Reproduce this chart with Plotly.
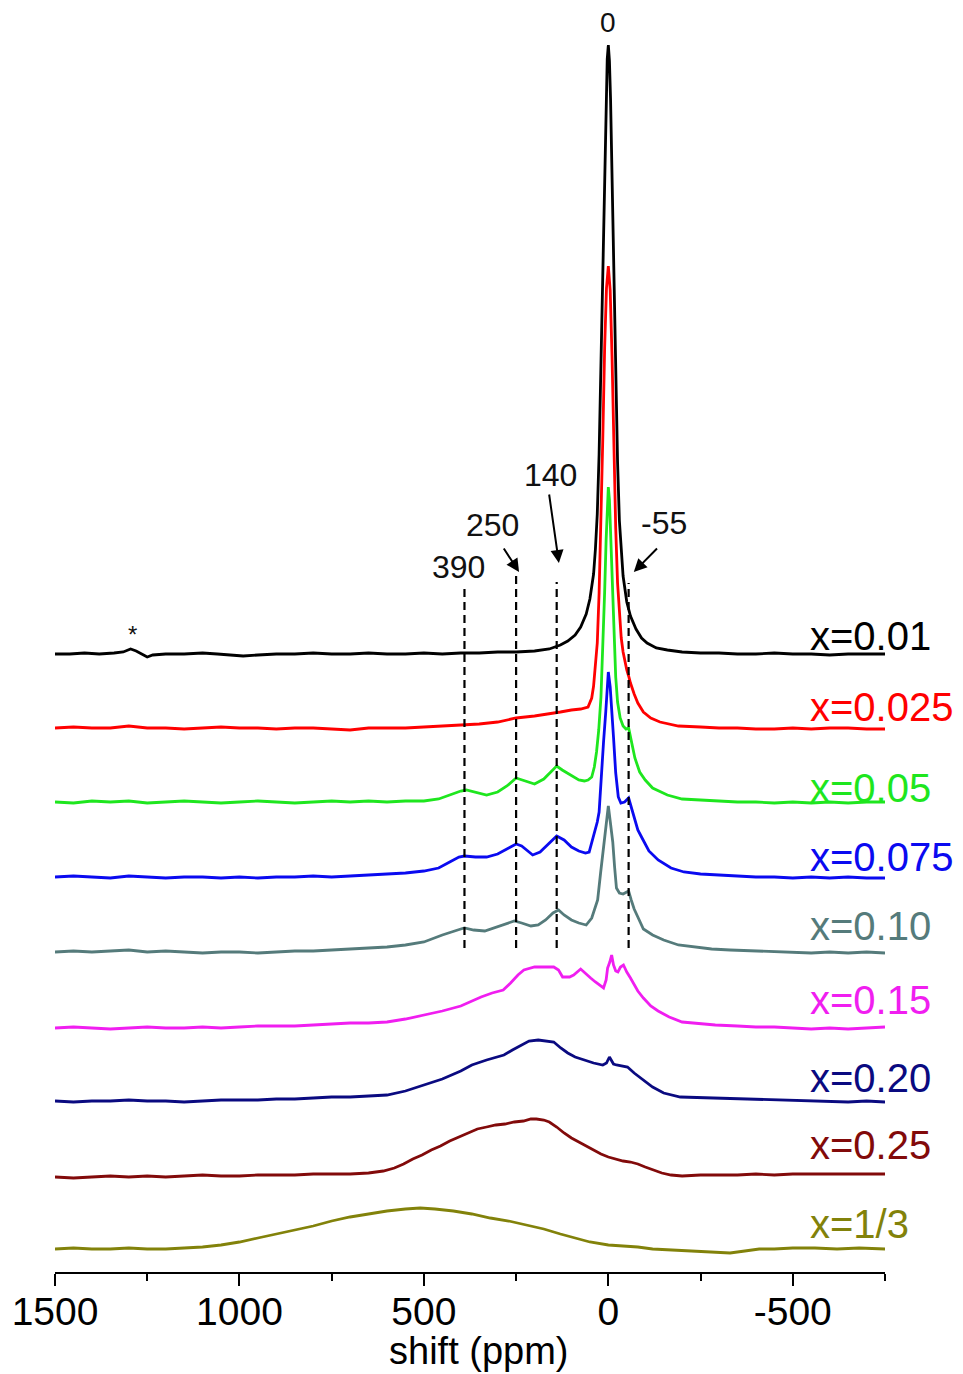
import plotly.graph_objects as go

# ---------------- data (ppm, intensity above own baseline) ----------------
labels = ["x=0.01", "x=0.025", "x=0.05", "x=0.075", "x=0.10",
          "x=0.15", "x=0.20", "x=0.25", "x=1/3"]

spec_001 = [(1500, 0), (1460, 0), (1420, 1), (1380, 0), (1340, 1), (1315, 2), (1295, 5), (1280, 3),
            (1265, 0), (1250, -3), (1235, -1), (1200, 0), (1150, 0), (1100, 1), (1060, 0), (1020, -1),
            (990, -2), (950, -1), (900, 0), (850, 0), (800, 1), (750, 0), (700, 0), (650, 1), (600, 0),
            (550, 0), (500, 1), (450, 0), (400, 1), (350, 1), (300, 2), (250, 2), (200, 3), (160, 5),
            (130, 9), (110, 13), (90, 19), (75, 27), (60, 40), (50, 55), (40, 80), (35, 105), (30, 140),
            (25, 200), (20, 290), (16, 370), (12, 440), (9, 500), (6, 560), (3, 595), (0, 609),
            (-3, 593), (-6, 555), (-9, 495), (-12, 432), (-16, 360), (-20, 280), (-25, 192), (-30, 133),
            (-35, 100), (-40, 78), (-50, 52), (-60, 38), (-75, 25), (-90, 16), (-105, 11), (-130, 6),
            (-160, 4), (-200, 2), (-250, 1), (-300, 1), (-350, 0), (-400, 0), (-450, 1), (-500, 0),
            (-550, 0), (-600, -1), (-650, 0), (-700, 0), (-750, 0)]

spec_0025 = [(1500, 0), (1450, 1), (1400, 0), (1350, 0), (1300, 2), (1250, 0), (1200, 0), (1150, -1),
             (1100, 0), (1050, 1), (1000, 0), (950, 0), (900, -1), (850, 0), (800, 0), (750, -1),
             (700, -2), (650, 0), (600, 0), (550, 0), (500, 1), (450, 2), (400, 3), (350, 4), (300, 6),
             (250, 10), (200, 12), (160, 14), (130, 16), (100, 18), (75, 19), (55, 21), (45, 30),
             (40, 42), (35, 60), (30, 85), (25, 135), (20, 200), (15, 290), (10, 380), (5, 440),
             (0, 462), (-5, 438), (-10, 372), (-15, 280), (-20, 200), (-25, 145), (-30, 112), (-35, 90),
             (-40, 76), (-45, 66), (-50, 58), (-55, 52), (-60, 45), (-70, 34), (-80, 25), (-95, 16),
             (-115, 10), (-140, 6), (-190, 2), (-250, 1), (-300, 0), (-350, 0), (-400, -1), (-450, -1),
             (-500, 0), (-550, -1), (-600, 0), (-650, 0), (-700, -1), (-750, -1)]

spec_005 = [(1500, 0), (1450, -1), (1400, 1), (1350, 0), (1300, 1), (1250, -1), (1200, 0), (1150, 1),
            (1100, 0), (1050, -1), (1000, 0), (950, 1), (900, 0), (850, -1), (800, 0), (750, 1),
            (700, 0), (650, 1), (600, 0), (550, 1), (500, 1), (460, 3), (430, 7), (400, 11), (385, 12),
            (360, 10), (330, 7), (300, 10), (275, 16), (250, 24), (225, 21), (200, 18), (175, 23),
            (155, 30), (140, 36), (125, 32), (100, 26), (80, 22), (65, 21), (55, 22), (45, 25),
            (38, 35), (32, 50), (26, 72), (20, 105), (15, 150), (10, 210), (6, 262), (3, 298), (0, 315),
            (-3, 302), (-6, 268), (-10, 218), (-15, 163), (-20, 125), (-25, 100), (-32, 84), (-40, 76),
            (-48, 73), (-55, 74), (-62, 62), (-72, 44), (-85, 30), (-100, 22), (-120, 14), (-160, 7),
            (-200, 3), (-250, 2), (-300, 1), (-350, 0), (-400, 0), (-450, -1), (-500, 0), (-550, -1),
            (-600, 0), (-650, -1), (-700, 0), (-750, 0)]

spec_0075 = [(1500, 0), (1450, 1), (1400, 0), (1350, -1), (1300, 1), (1250, 0), (1200, -1), (1150, 0),
             (1100, 0), (1050, -1), (1000, 0), (950, -1), (900, 0), (850, 0), (800, 1), (750, 0),
             (700, 1), (650, 2), (600, 3), (550, 4), (500, 6), (460, 9), (430, 15), (405, 20), (390, 21),
             (360, 20), (330, 20), (300, 23), (270, 29), (250, 33), (235, 31), (220, 26), (205, 22),
             (185, 25), (160, 34), (140, 41), (120, 37), (100, 30), (80, 26), (62, 24), (52, 25),
             (40, 40), (30, 55), (25, 65), (20, 90), (13, 135), (7, 165), (3, 190), (0, 205), (-5, 190),
             (-10, 165), (-14, 140), (-20, 104), (-27, 80), (-34, 74), (-44, 75), (-55, 79), (-62, 70),
             (-70, 60), (-80, 47), (-90, 40), (-110, 26), (-135, 17), (-170, 9), (-205, 5), (-250, 3),
             (-300, 2), (-350, 1), (-400, 0), (-450, 0), (-500, -1), (-550, 0), (-600, -1), (-650, 0),
             (-700, -1), (-750, -1)]

spec_010 = [(1500, 0), (1450, 1), (1400, 0), (1350, 1), (1300, 2), (1250, 0), (1200, 1), (1150, 0),
            (1100, -1), (1050, 0), (1000, 0), (950, -1), (900, 0), (850, 1), (800, 1), (750, 2),
            (700, 3), (650, 4), (600, 5), (550, 7), (500, 10), (450, 17), (420, 21), (400, 23),
            (390, 24), (365, 22), (335, 21), (305, 25), (275, 29), (255, 31), (235, 29), (210, 26),
            (190, 27), (170, 32), (150, 39), (135, 42), (120, 37), (100, 32), (80, 29), (60, 27),
            (45, 34), (35, 45), (29, 52), (21, 79), (13, 105), (6, 130), (0, 146), (-6, 128),
            (-12, 110), (-17, 85), (-22, 64), (-30, 59), (-40, 58), (-50, 60), (-55, 61), (-62, 52),
            (-70, 43), (-80, 35), (-95, 23), (-120, 17), (-150, 12), (-190, 7), (-230, 5), (-280, 3),
            (-330, 2), (-400, 1), (-450, 0), (-500, 0), (-550, -1), (-600, 0), (-650, -1), (-700, 0),
            (-750, -1)]

spec_015 = [(1500, 0), (1450, 1), (1400, 0), (1350, -1), (1300, 0), (1250, 1), (1200, 0), (1150, 0),
            (1100, 1), (1050, 0), (1000, 1), (950, 2), (900, 2), (850, 2), (800, 3), (750, 4), (700, 5),
            (650, 5), (600, 6), (550, 9), (500, 13), (450, 17), (400, 22), (370, 27), (345, 31),
            (315, 35), (285, 38), (265, 45), (245, 53), (229, 58), (200, 61), (175, 61), (148, 61),
            (135, 58), (124, 51), (105, 51), (94, 53), (75, 59), (65, 56), (48, 50), (35, 46), (20, 42),
            (13, 40), (6, 48), (2, 60), (-4, 66), (-9, 73), (-14, 63), (-20, 57), (-26, 56), (-33, 61),
            (-41, 63), (-50, 56), (-60, 50), (-70, 44), (-80, 37), (-95, 30), (-115, 22), (-135, 17),
            (-165, 11), (-200, 6), (-250, 4), (-290, 3), (-350, 2), (-400, 1), (-450, 1), (-500, 0),
            (-550, -1), (-600, 0), (-650, -1), (-700, 0), (-750, 1)]

spec_020 = [(1500, 0), (1450, -1), (1400, 0), (1350, 0), (1300, 1), (1250, 0), (1200, 0), (1150, -1),
            (1100, 0), (1050, 1), (1000, 1), (950, 1), (900, 2), (850, 2), (800, 3), (750, 4), (700, 4),
            (650, 5), (600, 6), (550, 10), (500, 16), (450, 22), (400, 30), (370, 36), (330, 41),
            (283, 46), (260, 51), (237, 56), (215, 60), (190, 61), (165, 60), (148, 59), (129, 53),
            (110, 48), (90, 44), (65, 41), (40, 38), (15, 36), (5, 38), (-3, 44), (-8, 41), (-14, 37),
            (-22, 36), (-35, 35), (-52, 34), (-70, 28), (-95, 21), (-120, 14), (-150, 8), (-195, 4),
            (-285, 3), (-380, 2), (-465, 1), (-550, 0), (-600, 0), (-650, -1), (-700, 0), (-750, -1)]

spec_025 = [(1500, 0), (1450, -1), (1400, 0), (1350, 1), (1300, 0), (1250, 1), (1200, 0), (1150, 1),
            (1100, 2), (1050, 1), (1000, 1), (950, 2), (900, 2), (850, 2), (800, 3), (750, 3), (700, 3),
            (650, 4), (610, 6), (580, 9), (555, 13), (530, 18), (505, 22), (480, 27), (455, 31),
            (430, 36), (405, 40), (380, 44), (355, 48), (330, 50), (305, 52), (280, 53), (255, 55),
            (230, 56), (210, 58), (195, 58), (175, 57), (160, 55), (140, 50), (120, 44), (100, 39),
            (80, 35), (60, 31), (40, 27), (20, 23), (0, 20), (-20, 18), (-40, 16), (-60, 15), (-80, 13),
            (-100, 10), (-120, 7), (-145, 4), (-170, 2), (-200, 1), (-250, 2), (-300, 2), (-350, 2),
            (-400, 3), (-450, 2), (-500, 3), (-550, 3), (-600, 3), (-650, 3), (-700, 3), (-750, 3)]

spec_033 = [(1500, 0), (1450, 1), (1400, 0), (1350, 0), (1300, 1), (1250, 0), (1200, 0), (1150, 1),
            (1100, 2), (1050, 4), (1000, 7), (950, 11), (900, 15), (850, 19), (800, 23), (750, 28),
            (700, 32), (650, 35), (600, 38), (550, 40), (510, 41), (470, 40), (420, 38), (370, 35),
            (320, 31), (270, 28), (220, 24), (175, 20), (130, 15), (90, 11), (50, 7), (0, 4), (-40, 3),
            (-80, 2), (-120, 0), (-180, -1), (-240, -2), (-287, -3), (-330, -4), (-370, -2), (-409, 0),
            (-450, 0), (-500, 1), (-560, 1), (-620, 0), (-680, 1), (-750, 0)]

spectra = [spec_001, spec_0025, spec_005, spec_0075, spec_010, spec_015, spec_020, spec_025, spec_033]

# marked shift positions (ppm) and the peak label
marked_shifts = [390, 250, 140, -55]
peak_label = "0"
x_ticks = [1500, 1000, 500, 0, -500]

# ---------------- layout / style ----------------
colors = ["#000000", "#FF0000", "#1EE61E", "#0A0AF0", "#557B7B",
          "#F01EF0", "#0A0A80", "#820A0A", "#82820A"]
offsets = [618, 544, 470, 395, 320, 244, 171, 95, 23]
label_y = [636, 565, 484, 415, 346, 272, 194, 127, 48]
dash_top = [684, 697, 690, 689]
dash_bottom = 324
FONT = "Liberation Sans, Arial, sans-serif"

fig = go.Figure()

for spec, off, col in zip(spectra, offsets, colors):
    xs = [p[0] for p in spec]
    ys = [p[1] + off for p in spec]
    fig.add_trace(go.Scatter(x=xs, y=ys, mode="lines",
                             line=dict(color=col, width=2.8), hoverinfo="skip"))

for xv, top in zip(marked_shifts, dash_top):
    fig.add_trace(go.Scatter(x=[xv, xv], y=[dash_bottom, top], mode="lines",
                             line=dict(color="black", width=2.2, dash="8px,5px"),
                             hoverinfo="skip"))

ann = []
for lab, ly, col in zip(labels, label_y, colors):
    ann.append(dict(x=-541, y=ly, xref="x", yref="y", text=lab, showarrow=False,
                    xanchor="left", yanchor="middle",
                    font=dict(family=FONT, size=40, color=col)))

# numeric labels of marked shifts
label_pos = {390: (405, 705), 250: (313, 747), 140: (156, 797), -55: (-150, 749)}
for v in marked_shifts:
    lx, lyy = label_pos[v]
    ann.append(dict(x=lx, y=lyy, xref="x", yref="y", text=str(v), showarrow=False,
                    xanchor="center", yanchor="middle",
                    font=dict(family=FONT, size=32, color="#111111")))

# arrows (tail -> head)
arrows = [((286, 725), (242, 700)), ((161, 779), (134, 709)), ((-136, 725), (-69, 700))]
for (tx, ty), (hx, hy) in arrows:
    ann.append(dict(x=hx, y=hy, ax=tx, ay=ty, xref="x", yref="y", axref="x", ayref="y",
                    text="", showarrow=True, arrowhead=2, arrowsize=1.3, arrowwidth=2,
                    arrowcolor="black", standoff=0, startstandoff=0))

ann.append(dict(x=2, y=1250, xref="x", yref="y", text=peak_label, showarrow=False,
                xanchor="center", yanchor="middle",
                font=dict(family=FONT, size=28, color="#111111")))
ann.append(dict(x=1289, y=638, xref="x", yref="y", text="*", showarrow=False,
                xanchor="center", yanchor="middle",
                font=dict(family=FONT, size=24, color="#111111")))
ann.append(dict(x=351, y=-101 / 1252, xref="x", yref="paper", text="shift (ppm)", showarrow=False,
                xanchor="center", yanchor="bottom", borderpad=0,
                font=dict(family=FONT, size=38, color="black")))

fig.update_layout(
    width=963, height=1374,
    margin=dict(l=53, r=78, t=20, b=102),
    paper_bgcolor="white", plot_bgcolor="white",
    showlegend=False,
    annotations=ann,
    xaxis=dict(range=[1500, -750], showgrid=False, zeroline=False,
               showline=True, linecolor="black", linewidth=2,
               ticks="outside", ticklen=12, tickwidth=2, tickcolor="black",
               tickvals=x_ticks, ticktext=[str(t) for t in x_ticks],
               ticklabelstandoff=-8,
               tickfont=dict(family=FONT, size=39, color="black"),
               minor=dict(ticks="outside", ticklen=7, tickwidth=2, tickcolor="black",
                          tickvals=[1250, 750, 250, -250, -750])),
    yaxis=dict(range=[0, 1252], visible=False, showgrid=False, zeroline=False),
)

fig.write_html("out.html")
